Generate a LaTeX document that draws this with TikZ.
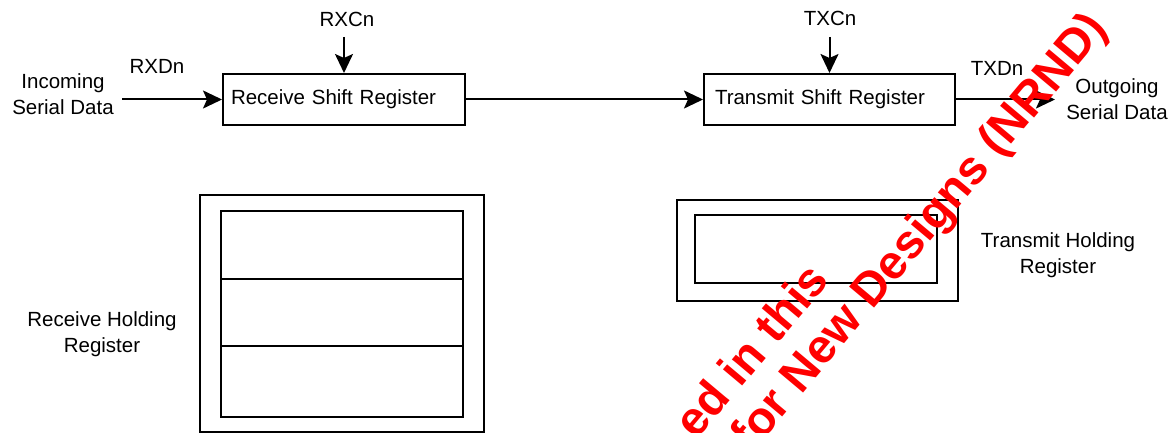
\documentclass[tikz,border=0pt]{standalone}
\usepackage{fontspec}
\setmainfont{Liberation Sans}
\newfontfamily\wmfont{Liberation Sans}
\usetikzlibrary{arrows.meta}
\tikzset{
  lbl/.style={font=\fontsize{20.5}{26}\selectfont, inner sep=0pt, align=center},
  regbox/.style={draw, line width=2pt, minimum height=51pt, inner ysep=0pt, align=left, font=\fontsize{20.5}{26}\selectfont},
  arr/.style={line width=2pt, -{Stealth[length=19pt, width=18pt, inset=4pt]}},
  frame/.style={draw, line width=2pt},
  wm/.style={text=red, font=\wmfont\bfseries\fontsize{47.5}{55}\selectfont, inner sep=0pt, rotate=50}
}
\begin{document}
\begin{tikzpicture}[x=1pt,y=-1pt]
\useasboundingbox[fill=white] (0,0) rectangle (1176,433);
% shift registers
\node[regbox, text width=226pt, inner xsep=8pt] (rsr) at (344,99.5) {Receive Shift Register};
\node[regbox, text width=229pt, inner xsep=11pt] (tsr) at (829.5,99.5) {Transmit Shift Register};
% labels
\node[lbl] (rxcl) at (347,19) {RXCn};
\node[lbl] (txcl) at (830,18) {TXCn};
\node[lbl] (rxdl) at (157,66) {RXDn};
\node[lbl] (txdl) at (997,68) {TXDn};
\node[lbl] (inl) at (63,94) {Incoming\\Serial Data};
\node[lbl] (outl) at (1117,99) {Outgoing\\Serial Data};
\node[lbl] (rhrl) at (102,334) {Receive Holding\\Register};
\node[lbl] (thrl) at (1058,255) {Transmit Holding\\Register};
% connectors
\coordinate (inS) at (122,99.5);
\coordinate (outE) at (1055,99.5);
\coordinate (rxc) at (344,37);
\coordinate (txc) at (829.5,37);
\draw[arr] (inS) -- (rsr.west);
\draw[arr] (rsr.east) -- (tsr.west);
\draw[arr] (tsr.east) -- (outE);
\draw[arr] (rxc) -- (rsr.north);
\draw[arr] (txc) -- (tsr.north);
% receive holding register
\draw[frame] (200,195) rectangle (484,431.5);
\draw[frame] (221,211) rectangle (463,417);
\draw[frame] (221,279) -- (463,279);
\draw[frame] (221,346) -- (463,346);
% transmit holding register
\draw[frame] (677,200) rectangle (958,301);
\draw[frame] (695,215) rectangle (937,283);
% watermark
\begin{scope}
\clip (0,0) rectangle (1176,433);
\node[wm, anchor=base west] (wm2) at (752,454) {for New Designs (NRND)};
\node[wm, anchor=base east] (wm1) at (831,281) {ed in this};
\end{scope}
\end{tikzpicture}
\end{document}
